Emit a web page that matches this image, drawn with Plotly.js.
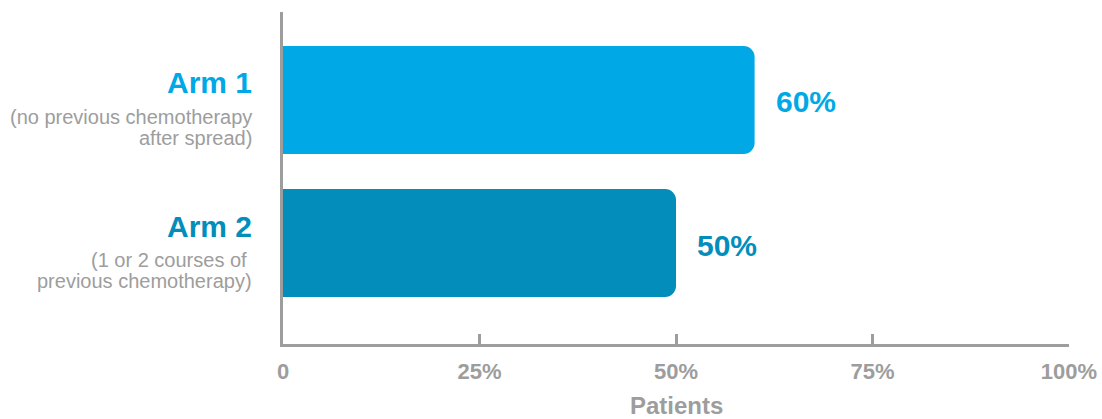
<!DOCTYPE html>
<html>
<head>
<meta charset="utf-8">
<script src="https://cdn.plot.ly/plotly-3.0.1.min.js"></script>
<style>html,body{margin:0;padding:0;background:#fff;}#chart{width:1102px;height:419px;}</style>
</head>
<body>
<div id="chart"></div>
<script>
var categories = ["Arm 2", "Arm 1"];
var subtitleLine1 = ["(1 or 2 courses of ", "(no previous chemotherapy"];
var subtitleLine2 = ["previous chemotherapy)", "after spread)"];
var values = [50, 60];
var valueLabels = ["50%", "60%"];
var barColors = ["#028DBB", "#00A9E6"];
var tickVals = [0, 25, 50, 75, 100];
var tickLabels = ["0", "25%", "50%", "75%", "100%"];

var gray = "#9D9D9D";
var font = "Liberation Sans, Arial, sans-serif";

var trace = {
  type: "bar",
  orientation: "h",
  x: values,
  y: categories,
  width: 0.755,
  marker: {color: barColors, cornerradius: 11},
  hoverinfo: "none"
};

var annotations = [];
categories.forEach(function (c, i) {
  annotations.push({
    xref: "paper", yref: "y", x: 0, y: c, xanchor: "right", yanchor: "middle",
    xshift: -29, yshift: 17, showarrow: false,
    text: "<b>" + c + "</b>", font: {family: font, size: 30, color: barColors[i]}
  });
  annotations.push({
    xref: "paper", yref: "y", x: 0, y: c, xanchor: "right", yanchor: "middle",
    xshift: -29, yshift: -17, showarrow: false,
    text: subtitleLine1[i].replace(/ $/, "&nbsp;"), font: {family: font, size: 20, color: gray}
  });
  annotations.push({
    xref: "paper", yref: "y", x: 0, y: c, xanchor: "right", yanchor: "middle",
    xshift: -29, yshift: -38, showarrow: false,
    text: subtitleLine2[i], font: {family: font, size: 20, color: gray}
  });
  annotations.push({
    xref: "x", yref: "y", x: values[i], y: c, xanchor: "left", yanchor: "middle",
    xshift: 19, yshift: -2, showarrow: false,
    text: "<b>" + valueLabels[i] + "</b>", font: {family: font, size: 30, color: barColors[i]}
  });
});
annotations.push({
  xref: "paper", yref: "paper", x: 0.5, y: 0, xanchor: "center", yanchor: "middle",
  yshift: -61, showarrow: false,
  text: "<b>Patients</b>", font: {family: font, size: 24, color: gray}
});

var layout = {
  width: 1102, height: 419,
  margin: {l: 283, r: 33, t: 12, b: 75},
  paper_bgcolor: "#fff", plot_bgcolor: "#fff",
  showlegend: false,
  xaxis: {
    range: [0, 100], tickvals: tickVals,
    ticktext: tickLabels.map(function (t) { return "<b>" + t + "</b>"; }),
    showgrid: false, zeroline: false, showline: true, linecolor: gray, linewidth: 3,
    ticks: "inside", ticklen: 10, tickwidth: 3, tickcolor: gray,
    tickfont: {family: font, size: 22, color: gray},
    ticklabelstandoff: 6, fixedrange: true
  },
  yaxis: {
    type: "category", categoryarray: categories, range: [-0.706, 1.615],
    showticklabels: false, showgrid: false, zeroline: false,
    showline: true, linecolor: gray, linewidth: 3, ticks: "", fixedrange: true
  },
  annotations: annotations
};

Plotly.newPlot("chart", [trace], layout, {displayModeBar: false, staticPlot: true});
</script>
</body>
</html>
